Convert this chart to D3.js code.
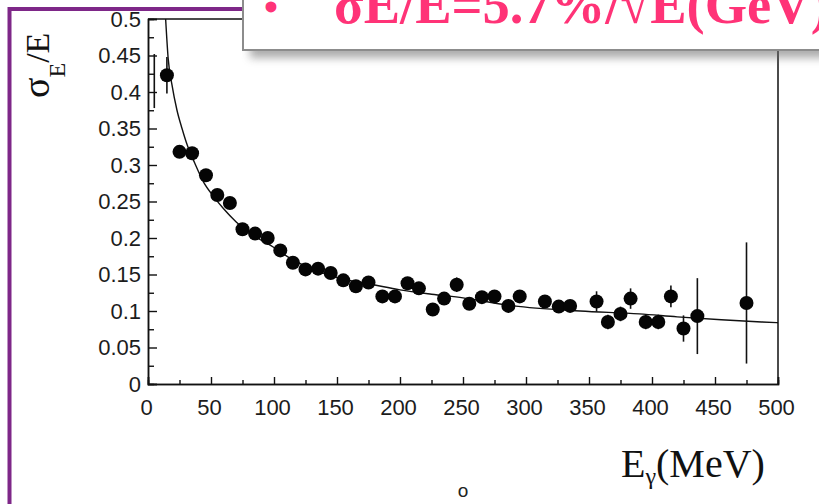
<!DOCTYPE html>
<html>
<head>
<meta charset="utf-8">
<script src="https://cdn.jsdelivr.net/npm/d3@7"></script>
<style>
  html, body { margin: 0; padding: 0; background: #fff; overflow: hidden; }
  svg { display: block; }
</style>
</head>
<body>
<svg id="chart" width="819" height="504"></svg>
<script>
// Photon energy (MeV) of each measured point
const energies = [15, 25, 35, 46, 55, 65, 75, 85, 95, 105, 115, 125, 135, 145, 155, 165, 175, 186, 196,
  206, 215, 226, 235, 245, 255, 265, 275, 286, 295, 315, 326, 335, 356, 365, 375, 383, 395, 405, 415,
  425, 436, 475];
// Measured relative energy resolution sigma_E / E
const resolution = [0.423, 0.318, 0.316, 0.286, 0.259, 0.248, 0.212, 0.206, 0.200, 0.183, 0.166, 0.157,
  0.158, 0.152, 0.142, 0.134, 0.139, 0.120, 0.120, 0.138, 0.131, 0.102, 0.117, 0.136, 0.110, 0.119,
  0.120, 0.107, 0.120, 0.113, 0.106, 0.107, 0.113, 0.085, 0.096, 0.117, 0.085, 0.085, 0.120, 0.076,
  0.093, 0.111];
// Statistical error on each point
const resolutionErr = [0.025, 0.008, 0.008, 0.008, 0.008, 0.008, 0.008, 0.008, 0.008, 0.008, 0.008, 0.008,
  0.008, 0.008, 0.008, 0.008, 0.008, 0.008, 0.008, 0.008, 0.008, 0.008, 0.008, 0.010, 0.008, 0.008,
  0.008, 0.008, 0.008, 0.008, 0.008, 0.008, 0.014, 0.010, 0.010, 0.014, 0.010, 0.010, 0.015, 0.018,
  0.052, 0.083];
// Bare error bar near the axis (centre value above the frame)
const strayBarEnergy = [5];
const strayBarLow = [0.378];
const strayBarHigh = [0.452];
// Fitted resolution curve
const fitEnergies = [14, 16, 19, 23, 27, 31, 37, 44, 52, 60, 70, 86, 100, 113, 131, 152, 179, 200, 225,
  250, 290, 343, 390, 420, 455, 487, 500];
const fitResolution = [0.5, 0.446, 0.41, 0.375, 0.35, 0.328, 0.303, 0.277, 0.257, 0.240, 0.222, 0.201,
  0.187, 0.172, 0.157, 0.145, 0.136, 0.129, 0.123, 0.118, 0.107, 0.100, 0.096, 0.092, 0.088, 0.085, 0.084];
// Axis ticks
const xTicks = [0, 50, 100, 150, 200, 250, 300, 350, 400, 450, 500];
const xMinorTicks = [25, 75, 125, 175, 225, 275, 325, 375, 425, 475];
const yTicks = [0, 0.05, 0.1, 0.15, 0.2, 0.25, 0.3, 0.35, 0.4, 0.45, 0.5];
const yMinorTicks = [0.025, 0.075, 0.125, 0.175, 0.225, 0.275, 0.325, 0.375, 0.425, 0.475];
const yTickLabels = ["0", "0.05", "0.1", "0.15", "0.2", "0.25", "0.3", "0.35", "0.4", "0.45", "0.5"];

const svg = d3.select("#chart");
const defs = svg.append("defs");
defs.append("clipPath").attr("id", "pageClip")
  .append("rect").attr("x", 11).attr("y", 11).attr("width", 819).attr("height", 504);
defs.append("clipPath").attr("id", "plotClip")
  .append("rect").attr("x", 148).attr("y", 19).attr("width", 630).attr("height", 365);
const blur = defs.append("filter").attr("id", "soft")
  .attr("x", "-10%").attr("y", "-50%").attr("width", "120%").attr("height", "200%");
blur.append("feGaussianBlur").attr("stdDeviation", 4);

const x = d3.scaleLinear().domain([0, 500]).range([148, 778]);
const y = d3.scaleLinear().domain([0, 0.5]).range([384, 19]);

const page = svg.append("g").attr("clip-path", "url(#pageClip)");

// Frame: top and right edges
page.append("path")
  .attr("d", `M${x(0)},${y(0.5)}H${x(500)}V${y(0)}`)
  .attr("fill", "none").attr("stroke", "#111").attr("stroke-width", 1.5);

// Axes with inward ticks
const styleAxis = g => {
  g.select(".domain").attr("stroke", "#111").attr("stroke-width", 1.5);
  g.selectAll(".tick line").attr("stroke", "#111").attr("stroke-width", 1.4);
  g.selectAll("text").attr("font-family", "'Liberation Sans', Arial, sans-serif")
    .attr("font-size", 22).attr("fill", "#1c1c1c");
};

page.append("g").attr("transform", `translate(0,${y(0)})`)
  .call(d3.axisBottom(x).tickValues(xMinorTicks).tickSize(-4).tickFormat(""))
  .call(styleAxis);
page.append("g").attr("transform", `translate(0,${y(0)})`)
  .call(d3.axisBottom(x).tickValues(xTicks).tickSize(-7).tickPadding(15).tickFormat(d3.format("d")))
  .call(styleAxis)
  .call(g => g.selectAll("text").attr("dx", -2));

page.append("g").attr("transform", `translate(${x(0)},0)`)
  .call(d3.axisLeft(y).tickValues(yMinorTicks).tickSize(-6).tickFormat(""))
  .call(styleAxis);
page.append("g").attr("transform", `translate(${x(0)},0)`)
  .call(d3.axisLeft(y).tickValues(yTicks).tickSize(-9).tickPadding(7)
    .tickFormat((d, i) => yTickLabels[i]))
  .call(styleAxis);

// Fit curve
const plot = page.append("g").attr("clip-path", "url(#plotClip)");
const fitLine = d3.line().curve(d3.curveMonotoneX)
  .x((d, i) => x(fitEnergies[i])).y((d, i) => y(fitResolution[i]));
plot.append("path").datum(fitEnergies)
  .attr("d", fitLine).attr("fill", "none").attr("stroke", "#111").attr("stroke-width", 1.4);

// Error bars
plot.selectAll("line.err").data(energies).join("line").attr("class", "err")
  .attr("x1", d => x(d)).attr("x2", d => x(d))
  .attr("y1", (d, i) => y(resolution[i] - resolutionErr[i]))
  .attr("y2", (d, i) => y(resolution[i] + resolutionErr[i]))
  .attr("stroke", "#111").attr("stroke-width", 1.6);
plot.selectAll("line.stray").data(strayBarEnergy).join("line").attr("class", "stray")
  .attr("x1", d => x(d)).attr("x2", d => x(d))
  .attr("y1", (d, i) => y(strayBarLow[i])).attr("y2", (d, i) => y(strayBarHigh[i]))
  .attr("stroke", "#111").attr("stroke-width", 1.6);

// Markers
plot.selectAll("circle.pt").data(energies).join("circle").attr("class", "pt")
  .attr("cx", d => x(d)).attr("cy", (d, i) => y(resolution[i]))
  .attr("r", 7).attr("fill", "#050505");

// Axis titles
const yTitle = page.append("text")
  .attr("transform", "translate(49,98) rotate(-90)")
  .attr("font-family", "'Liberation Serif', 'Times New Roman', serif")
  .attr("fill", "#111");
yTitle.append("tspan").attr("font-size", 38).text("σ");
yTitle.append("tspan").attr("font-size", 24).attr("dy", 16).text("E");
yTitle.append("tspan").attr("font-size", 34).attr("dy", -16).text("/E");

const xTitle = page.append("text")
  .attr("x", 621).attr("y", 477)
  .attr("font-family", "'Liberation Serif', 'Times New Roman', serif")
  .attr("fill", "#111");
xTitle.append("tspan").attr("font-size", 40).text("E");
xTitle.append("tspan").attr("font-size", 24).attr("dy", 7).text("γ");
xTitle.append("tspan").attr("font-size", 40).attr("dy", -7).text("(MeV)");

page.append("text").attr("x", 463).attr("y", 497).attr("text-anchor", "middle")
  .attr("font-family", "'Liberation Sans', Arial, sans-serif").attr("font-size", 19)
  .attr("fill", "#222").text("o");

// Slide border
svg.append("path").attr("d", "M9.5,504V9H260")
  .attr("fill", "none").attr("stroke", "#7e2788").attr("stroke-width", 4);

// Formula callout with drop shadow
svg.append("rect").attr("x", 250).attr("y", -20).attr("width", 620).attr("height", 78)
  .attr("fill", "#6a6a6a").attr("opacity", 0.55).attr("filter", "url(#soft)");
svg.append("rect").attr("x", 243).attr("y", -10).attr("width", 620).attr("height", 60)
  .attr("fill", "#fff").attr("stroke", "#8c8c8c").attr("stroke-width", 2);
svg.append("text").attr("x", 264).attr("y", 21)
  .attr("font-family", "'Liberation Serif', 'Times New Roman', serif")
  .attr("font-size", 40).attr("font-weight", "bold").attr("fill", "#ff3377").text("•");
svg.append("text").attr("x", 334).attr("y", 23)
  .attr("font-family", "'Liberation Serif', 'Times New Roman', serif")
  .attr("font-size", 54.5).attr("font-weight", "bold").attr("fill", "#ff3377")
  .text("σE/E=5.7%/√E(GeV)");
</script>
</body>
</html>
